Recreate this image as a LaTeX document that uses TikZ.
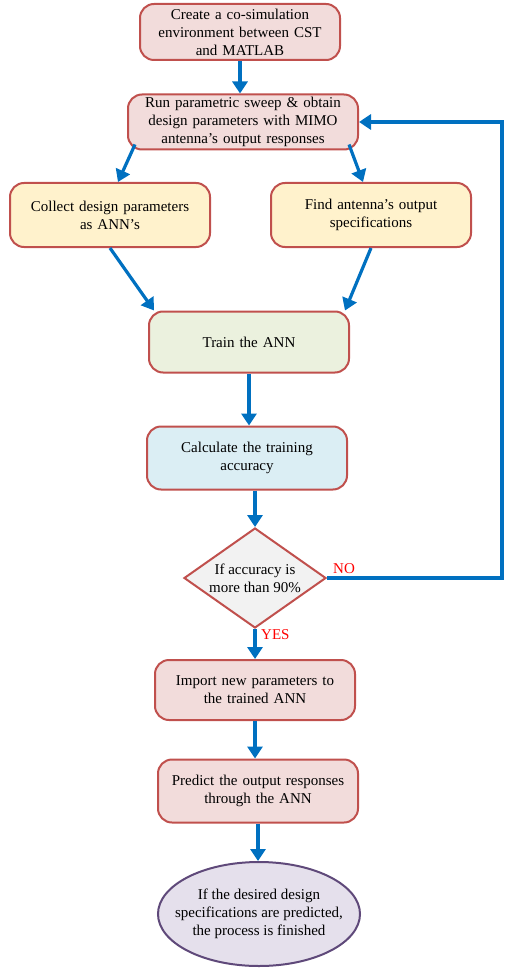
\documentclass[tikz,border=0pt]{standalone}
\usepackage{fontspec}
\setmainfont{Liberation Serif}
\usetikzlibrary{shapes.geometric,arrows.meta}
\definecolor{edgered}{HTML}{C0504D}
\definecolor{pinkfill}{HTML}{F2DCDB}
\definecolor{yellowfill}{HTML}{FFF2CC}
\definecolor{greenfill}{HTML}{EBF1DE}
\definecolor{bluefill}{HTML}{DBEEF4}
\definecolor{greyfill}{HTML}{F2F2F2}
\definecolor{lilacfill}{HTML}{E5E0EC}
\definecolor{edgepurple}{HTML}{5F497A}
\definecolor{flowblue}{HTML}{0070C0}
\begin{document}
\begin{tikzpicture}[x=1pt,y=-1pt,inner sep=1pt,
        box/.style={draw=edgered, line width=2pt, rounded corners=14pt, align=center,
                font=\fontsize{15}{18}\selectfont, minimum width=200pt, text width=194pt},
        flow/.style={draw=flowblue, line width=3.2pt, -{Triangle[length=12pt,width=15pt]}},
        lbl/.style={text=red, font=\fontsize{15}{18}\selectfont, inner sep=0pt}]
        \useasboundingbox (0,0) rectangle (505,968);

        \node[box, fill=pinkfill, minimum height=56pt] (create) at (240,32)
                {Create a co-simulation\\environment between CST\\and MATLAB};
        \node[box, fill=pinkfill, minimum width=230pt, text width=224pt, minimum height=55pt] (sweep) at (243,122)
                {Run parametric sweep \& obtain\\design parameters with MIMO\\antenna’s output responses};
        \node[box, fill=yellowfill, minimum height=64pt] (collect) at (110,215)
                {Collect design parameters\\as ANN’s};
        \node[box, fill=yellowfill, minimum height=64pt] (find) at (371,215)
                {Find antenna’s output\\specifications};
        \node[box, fill=greenfill, minimum height=61pt] (train) at (249,342) {Train the ANN};
        \node[box, fill=bluefill, minimum height=63pt] (calc) at (247,458)
                {Calculate the training\\accuracy};
        \node[diamond, draw=edgered, line width=2pt, fill=greyfill, aspect=1.42, inner sep=0pt,
                minimum width=142pt, minimum height=100pt, align=center,
                font=\fontsize{15}{18}\selectfont] (check) at (255,578)
                {If accuracy is\\more than 90\%};
        \node[box, fill=pinkfill, minimum height=60pt] (import) at (255,690)
                {Import new parameters to\\the trained ANN};
        \node[box, fill=pinkfill, minimum height=63pt] (predict) at (258,791)
                {Predict the output responses\\through the ANN};
        \node[ellipse, draw=edgepurple, line width=2pt, fill=lilacfill, inner xsep=-19pt, inner ysep=0pt,
                minimum width=202pt, minimum height=104pt, align=center,
                font=\fontsize{15}{18}\selectfont] (finish) at (259,914)
                {If the desired design\\specifications are predicted,\\the process is finished};

        \coordinate (turn) at (502,122);

        \draw[flow] (create.south) -- (create.south |- sweep.north);
        \draw[flow] ([xshift=8pt,yshift=6pt]sweep.south west) -- ([xshift=8pt]collect.north);
        \draw[flow] ([xshift=-10pt,yshift=6pt]sweep.south east) -- ([xshift=-8pt]find.north);
        \draw[flow] (collect.south) -- ([xshift=6pt]train.north west);
        \draw[flow] (find.south) -- ([xshift=-5pt]train.north east);
        \draw[flow] (train.south) -- (train.south |- calc.north);
        \draw[flow] (calc.south -| check.north) -- (check.north);
        \draw[flow] (check.south) -- (check.south |- import.north);
        \draw[flow] (import.south) -- (import.south |- predict.north);
        \draw[flow] (predict.south) -- (predict.south |- finish.north);
        \draw[flow] (check.east) -| (turn) -- (sweep.east);

        \node[lbl, anchor=south west] (no) at ([xshift=6pt,yshift=4pt]check.east) {NO};
        \node[lbl, anchor=west] (yes) at ([xshift=6pt,yshift=-6pt]check.south) {YES};
\end{tikzpicture}
\end{document}
